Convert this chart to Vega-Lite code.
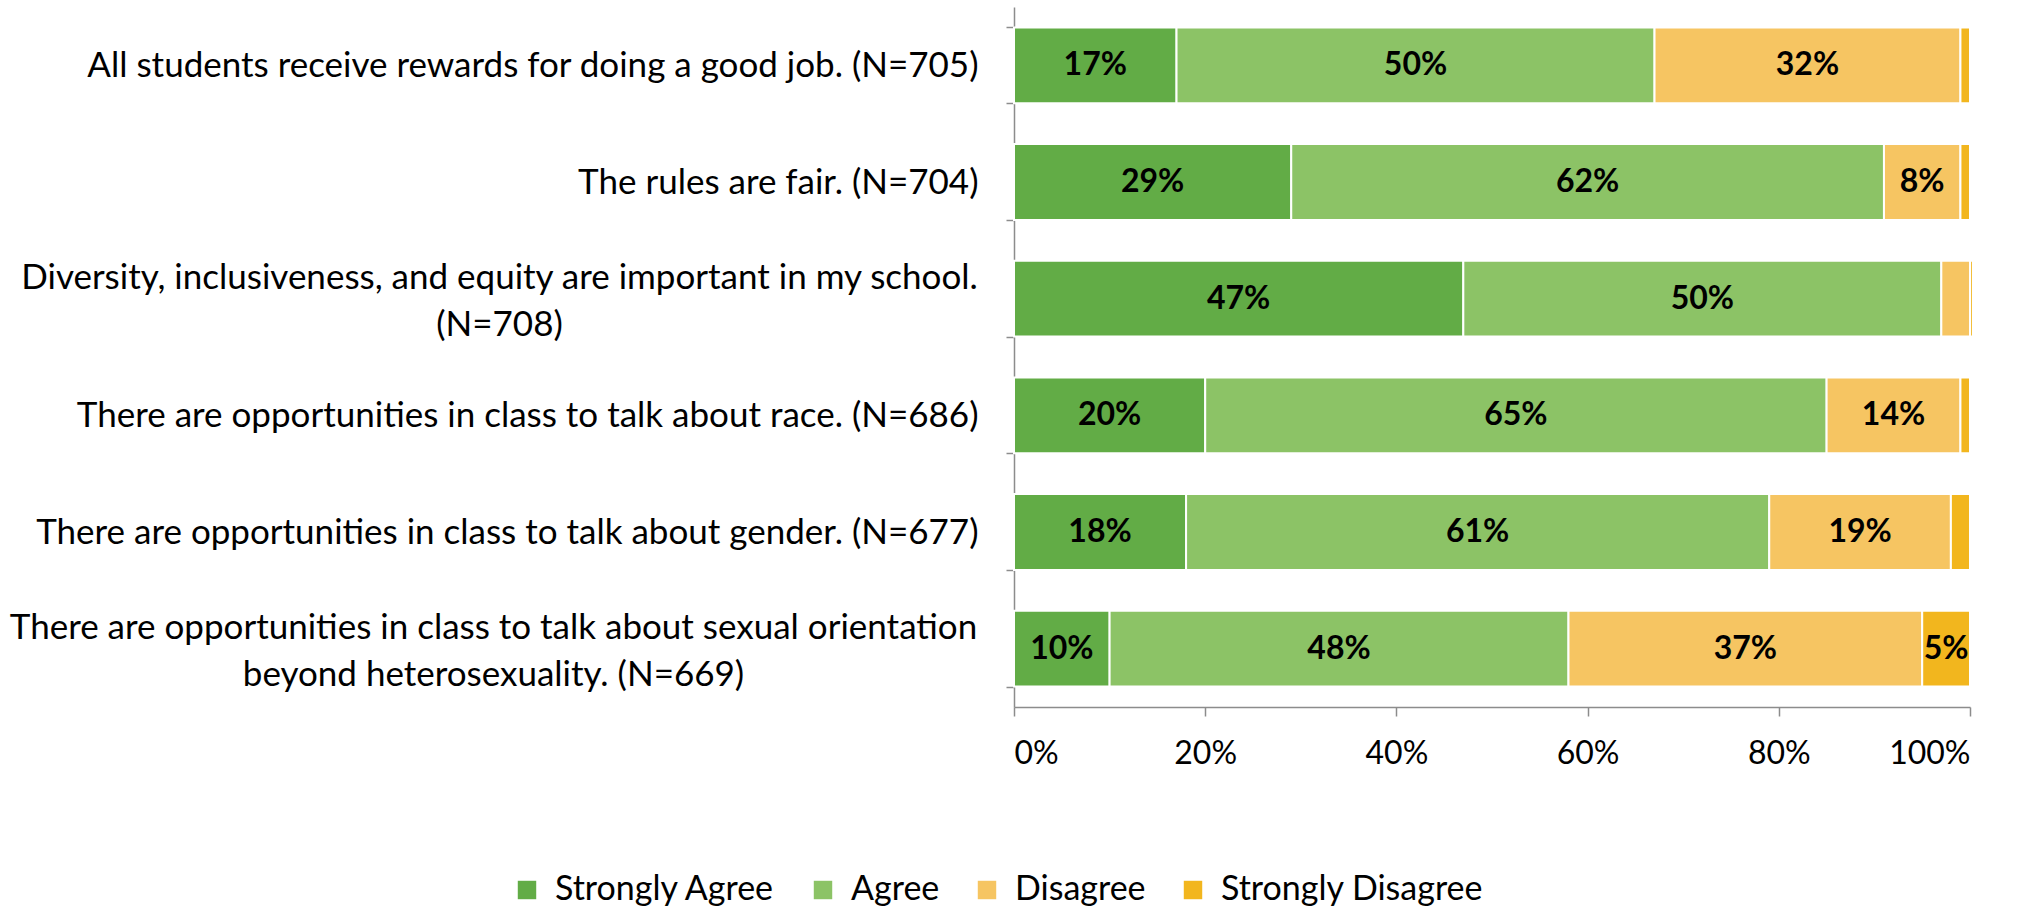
{
  "$schema": "https://vega.github.io/schema/vega-lite/v6.json",
  "width": 956,
  "height": 700,
  "autosize": {"type": "none"},
  "padding": {"left": 1014, "top": 7, "right": 60, "bottom": 203},
  "background": "white",
  "config": {
    "view": {"stroke": null},
    "font": "Lato",
    "axis": {"labelFont": "Lato", "labelColor": "#000000", "labelFontSize": 35, "domainColor": "#8c8c8c", "tickColor": "#8c8c8c", "domainWidth": 1.5, "tickWidth": 1.5, "grid": false, "title": null},
    "legend": {"labelFont": "Lato", "labelFontSize": 34, "labelColor": "#000000", "labelLimit": 600}
  },
  "data": {
    "values": [
      {"item": "All students receive rewards for doing a good job. (N=705)", "response": "Strongly Agree", "order": 1, "value": 0.17},
      {"item": "All students receive rewards for doing a good job. (N=705)", "response": "Agree", "order": 2, "value": 0.50},
      {"item": "All students receive rewards for doing a good job. (N=705)", "response": "Disagree", "order": 3, "value": 0.32},
      {"item": "All students receive rewards for doing a good job. (N=705)", "response": "Strongly Disagree", "order": 4, "value": 0.01},
      {"item": "The rules are fair. (N=704)", "response": "Strongly Agree", "order": 1, "value": 0.29},
      {"item": "The rules are fair. (N=704)", "response": "Agree", "order": 2, "value": 0.62},
      {"item": "The rules are fair. (N=704)", "response": "Disagree", "order": 3, "value": 0.08},
      {"item": "The rules are fair. (N=704)", "response": "Strongly Disagree", "order": 4, "value": 0.01},
      {"item": "Diversity, inclusiveness, and equity are important in my school.|(N=708)", "response": "Strongly Agree", "order": 1, "value": 0.47},
      {"item": "Diversity, inclusiveness, and equity are important in my school.|(N=708)", "response": "Agree", "order": 2, "value": 0.50},
      {"item": "Diversity, inclusiveness, and equity are important in my school.|(N=708)", "response": "Disagree", "order": 3, "value": 0.03},
      {"item": "Diversity, inclusiveness, and equity are important in my school.|(N=708)", "response": "Strongly Disagree", "order": 4, "value": 0.003},
      {"item": "There are opportunities in class to talk about race. (N=686)", "response": "Strongly Agree", "order": 1, "value": 0.20},
      {"item": "There are opportunities in class to talk about race. (N=686)", "response": "Agree", "order": 2, "value": 0.65},
      {"item": "There are opportunities in class to talk about race. (N=686)", "response": "Disagree", "order": 3, "value": 0.14},
      {"item": "There are opportunities in class to talk about race. (N=686)", "response": "Strongly Disagree", "order": 4, "value": 0.01},
      {"item": "There are opportunities in class to talk about gender. (N=677)", "response": "Strongly Agree", "order": 1, "value": 0.18},
      {"item": "There are opportunities in class to talk about gender. (N=677)", "response": "Agree", "order": 2, "value": 0.61},
      {"item": "There are opportunities in class to talk about gender. (N=677)", "response": "Disagree", "order": 3, "value": 0.19},
      {"item": "There are opportunities in class to talk about gender. (N=677)", "response": "Strongly Disagree", "order": 4, "value": 0.02},
      {"item": "There are opportunities in class to talk about sexual orientation|beyond heterosexuality. (N=669)", "response": "Strongly Agree", "order": 1, "value": 0.10},
      {"item": "There are opportunities in class to talk about sexual orientation|beyond heterosexuality. (N=669)", "response": "Agree", "order": 2, "value": 0.48},
      {"item": "There are opportunities in class to talk about sexual orientation|beyond heterosexuality. (N=669)", "response": "Disagree", "order": 3, "value": 0.37},
      {"item": "There are opportunities in class to talk about sexual orientation|beyond heterosexuality. (N=669)", "response": "Strongly Disagree", "order": 4, "value": 0.05}
    ]
  },
  "transform": [
    {"stack": "value", "groupby": ["item"], "sort": [{"field": "order", "order": "ascending"}], "as": ["v0", "v1"]}
  ],
  "encoding": {
    "y": {
      "field": "item", "type": "nominal", "sort": null,
      "scale": {"paddingInner": 0.35, "paddingOuter": 0.175},
      "axis": {
        "labelExpr": "split(datum.label, '|')", "labelLimit": 1000, "tickBand": "extent", "tickSize": 8, "labelLineHeight": 47,
        "labelAlign": {"condition": {"test": "datum.value == 'Diversity, inclusiveness, and equity are important in my school.|(N=708)' || datum.value == 'There are opportunities in class to talk about sexual orientation|beyond heterosexuality. (N=669)'", "value": "center"}, "value": "right"},
        "labelOffset": {"condition": {"test": "datum.value == 'Diversity, inclusiveness, and equity are important in my school.|(N=708)' || datum.value == 'There are opportunities in class to talk about sexual orientation|beyond heterosexuality. (N=669)'", "value": -21}, "value": 0},
        "labelPadding": {"condition": [
          {"test": "datum.value == 'Diversity, inclusiveness, and equity are important in my school.|(N=708)'", "value": 507},
          {"test": "datum.value == 'There are opportunities in class to talk about sexual orientation|beyond heterosexuality. (N=669)'", "value": 513}
        ], "value": 28}
      }
    }
  },
  "layer": [
    {
      "mark": {"type": "bar", "stroke": "white", "strokeWidth": 2},
      "encoding": {
        "x": {"field": "v0", "type": "quantitative", "scale": {"domain": [0, 1], "nice": false},
          "axis": {"format": ".0%", "values": [0, 0.2, 0.4, 0.6, 0.8, 1], "tickSize": 9, "labelPadding": 22, "labelFontSize": 32}},
        "x2": {"field": "v1"},
        "color": {
          "field": "response", "type": "nominal",
          "scale": {"domain": ["Strongly Agree", "Agree", "Disagree", "Strongly Disagree"], "range": ["#62ac46", "#8cc366", "#f6c562", "#f2b61e"]},
          "legend": {"title": null, "orient": "none", "legendX": -504, "legendY": 866, "direction": "horizontal", "symbolType": "square", "symbolSize": 340, "symbolStrokeWidth": 0, "columnPadding": 30, "labelOffset": 11}
        },
        "order": {"field": "order"}
      }
    },
    {
      "transform": [
        {"filter": "datum.value >= 0.045"},
        {"fold": ["v0", "v1"], "as": ["k", "pos"]},
        {"aggregate": [{"op": "mean", "field": "pos", "as": "mid"}], "groupby": ["item", "response", "value"]}
      ],
      "mark": {"type": "text", "font": "Lato", "fontSize": 32, "fontWeight": "bold", "color": "#000000"},
      "encoding": {
        "x": {"field": "mid", "type": "quantitative"},
        "text": {"field": "value", "type": "quantitative", "format": ".0%"}
      }
    }
  ]
}
